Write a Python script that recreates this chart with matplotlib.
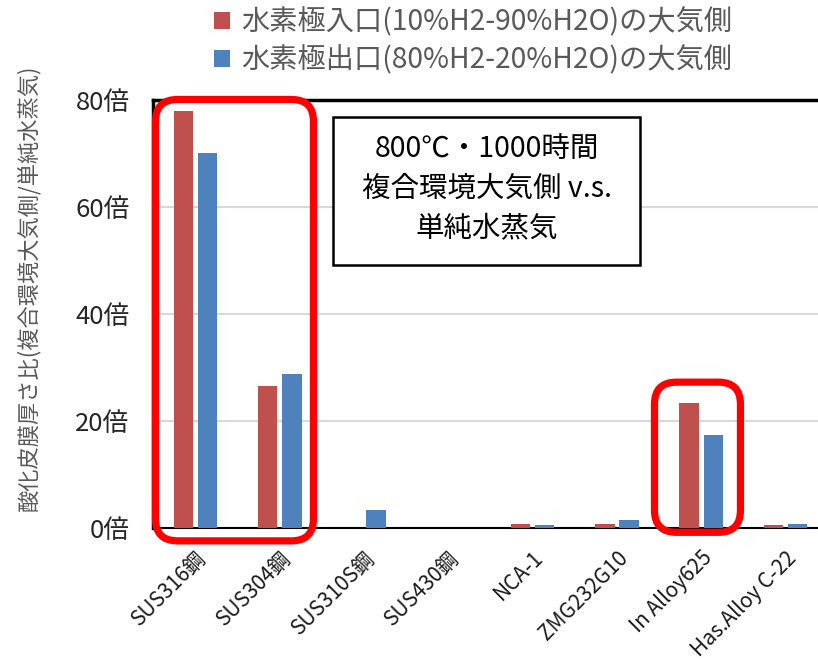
import matplotlib
matplotlib.use("Agg")
import matplotlib.pyplot as plt
import numpy as np
from matplotlib.patches import FancyBboxPatch, Rectangle

plt.rcParams['font.family'] = ['Noto Sans CJK JP', 'DejaVu Sans']

categories = ["SUS316鋼", "SUS304鋼", "SUS310S鋼", "SUS430鋼", "NCA-1",
              "ZMG232G10", "In Alloy625", "Has.Alloy C-22"]
inlet_vals = [77.9, 26.4, 0.0, 0.0, 0.7, 0.7, 23.3, 0.4]
outlet_vals = [70.1, 28.8, 3.2, 0.0, 0.4, 1.4, 17.3, 0.7]
series_labels = ["水素極入口(10%H2-90%H2O)の大気側", "水素極出口(80%H2-20%H2O)の大気側"]
ytick_vals = [0, 20, 40, 60, 80]
ytick_labels = ["0倍", "20倍", "40倍", "60倍", "80倍"]
ylabel = "酸化皮膜厚さ比(複合環境大気側/単純水蒸気)"
note = "800℃・1000時間\n複合環境大気側 v.s.\n単純水蒸気"

W, H = 818, 660
fig = plt.figure(figsize=(W / 100, H / 100), dpi=100)
ax_l, ax_r, ax_t, ax_b = 153.3, 827.7, 100, 527.5
ax = fig.add_axes([ax_l / W, 1 - ax_b / H, (ax_r - ax_l) / W, (ax_b - ax_t) / H])

x = np.arange(len(categories))
bw = 0.232
off = 0.143
b1 = ax.bar(x - off, inlet_vals, bw, color="#C0504D", label=series_labels[0], zorder=3)
b2 = ax.bar(x + off, outlet_vals, bw, color="#4F81BD", label=series_labels[1], zorder=3)

ax.set_xlim(-0.5, len(categories) - 0.5)
ax.set_ylim(0, 80)
ax.set_yticks(ytick_vals)
ax.set_yticklabels(ytick_labels, fontsize=18.5, color="#262626")
ax.set_xticks(x)
ax.set_xticklabels(categories, rotation=45, ha="right", rotation_mode="anchor",
                   fontsize=15, color="#1a1a1a")
ax.tick_params(axis="y", length=0, pad=17)
ax.tick_params(axis="x", length=0, pad=14)
ax.yaxis.grid(True, color="#D9D9D9", linewidth=1.5, zorder=0)
ax.set_axisbelow(True)

ax.spines["right"].set_visible(False)
ax.spines["top"].set_linewidth(2.5)
ax.spines["top"].set_color("black")
ax.spines["left"].set_linewidth(2.5)
ax.spines["bottom"].set_linewidth(1.5)

ax.set_ylabel(ylabel, fontsize=16, color="#595959")
ax.yaxis.set_label_coords(-0.168, 0.56)

# red highlight rounded rectangles (data coords, corrected aspect)
px_x = (ax_r - ax_l) / len(categories)
px_y = (ax_b - ax_t) / 80.0
aspect = px_x / px_y
r = 22 / px_x
for (x0, x1, y0, y1) in [(-0.474, 1.40, -2.5, 80.1), (5.445, 6.465, -0.9, 27.2)]:
    p = FancyBboxPatch((x0, y0), x1 - x0, y1 - y0,
                       boxstyle=f"round,pad=0,rounding_size={r}",
                       mutation_aspect=aspect, transform=ax.transData,
                       fill=False, edgecolor="#FF0000", linewidth=5.2,
                       clip_on=False, zorder=5)
    ax.add_patch(p)

# annotation box
bx0, bx1 = (333 - ax_l) / (ax_r - ax_l), (640 - ax_l) / (ax_r - ax_l)
by0, by1 = (ax_b - 265) / (ax_b - ax_t), (ax_b - 117) / (ax_b - ax_t)
ax.add_patch(Rectangle((bx0, by0), bx1 - bx0, by1 - by0, transform=ax.transAxes,
                       fill=True, facecolor="white", edgecolor="black",
                       linewidth=1.8, zorder=4))
ax.text((bx0 + bx1) / 2, (by0 + by1) / 2 + 0.005, note, transform=ax.transAxes,
        ha="center", va="center", fontsize=20.5, linespacing=1.45,
        color="black", zorder=6)

leg = fig.legend(handles=[b1, b2], loc="upper left",
                 bbox_to_anchor=(214 / W, 1 - 7 / H), frameon=False,
                 fontsize=20.3, labelcolor="#595959", handlelength=0.55,
                 handleheight=0.55, handletextpad=0.4, labelspacing=0.3,
                 borderaxespad=0, borderpad=0)

fig.savefig("out.png", dpi=100)
